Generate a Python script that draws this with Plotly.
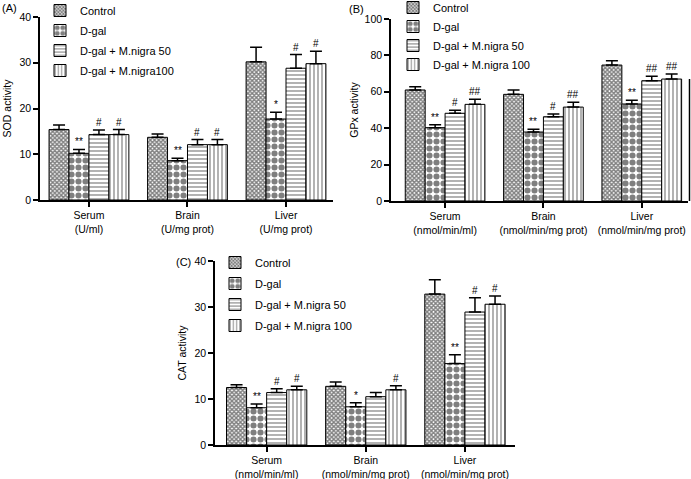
import plotly.graph_objects as go

W, H = 691, 479

series = ["Control", "D-gal", "D-gal + M.nigra 50", "D-gal + M.nigra100"]
series_bc = ["Control", "D-gal", "D-gal + M.nigra 50", "D-gal + M.nigra 100"]

cats_a = ["Serum<br>(U/ml)", "Brain<br>(U/mg prot)", "Liver<br>(U/mg prot)"]
cats_bc = ["Serum<br>(nmol/min/ml)", "Brain<br>(nmol/min/mg prot)", "Liver<br>(nmol/min/mg prot)"]

# Panel A: SOD activity  (per series: Serum, Brain, Liver)
sod_mean = {
    "Control": [15.4, 13.7, 30.2],
    "D-gal": [10.2, 8.6, 17.7],
    "M50": [14.3, 12.1, 28.8],
    "M100": [14.3, 12.1, 29.8],
}
sod_err = {
    "Control": [1.0, 0.7, 3.2],
    "D-gal": [0.85, 0.5, 1.5],
    "M50": [1.0, 1.1, 3.0],
    "M100": [1.1, 1.1, 2.7],
}
sod_sig = {
    "Control": ["", "", ""],
    "D-gal": ["**", "**", "*"],
    "M50": ["#", "#", "#"],
    "M100": ["#", "#", "#"],
}

# Panel B: GPx activity
gpx_mean = {
    "Control": [61.0, 58.6, 74.7],
    "D-gal": [40.3, 37.9, 53.3],
    "M50": [48.2, 46.3, 66.1],
    "M100": [53.1, 51.6, 67.0],
}
gpx_err = {
    "Control": [1.8, 2.4, 2.4],
    "D-gal": [1.6, 1.5, 2.0],
    "M50": [1.6, 1.5, 2.4],
    "M100": [2.8, 2.6, 2.8],
}
gpx_sig = {
    "Control": ["", "", ""],
    "D-gal": ["**", "**", "**"],
    "M50": ["#", "#", "##"],
    "M100": ["##", "##", "##"],
}

# Panel C: CAT activity
cat_mean = {
    "Control": [12.5, 12.75, 32.8],
    "D-gal": [8.1, 8.3, 17.7],
    "M50": [11.4, 10.5, 28.9],
    "M100": [12.0, 12.0, 30.6],
}
cat_err = {
    "Control": [0.6, 0.95, 3.1],
    "D-gal": [0.8, 0.9, 1.9],
    "M50": [0.85, 0.9, 3.1],
    "M100": [0.75, 0.9, 1.8],
}
cat_sig = {
    "Control": ["", "", ""],
    "D-gal": ["**", "*", "**"],
    "M50": ["#", "", "#"],
    "M100": ["#", "#", "#"],
}

keys = ["Control", "D-gal", "M50", "M100"]
patterns = {
    "Control": dict(shape="x", size=3, solidity=0.7, fgcolor="black", bgcolor="white"),
    "D-gal": dict(shape=".", size=7, solidity=0.6, fgcolor="black", bgcolor="white"),
    "M50": dict(shape="-", size=4, solidity=0.3, fgcolor="black", bgcolor="white"),
    "M100": dict(shape="|", size=4, solidity=0.3, fgcolor="black", bgcolor="white"),
}

FONT = "Liberation Sans, Arial, sans-serif"
BARGAP = 0.19
bw = (1 - BARGAP) / 4
offsets = [(-1.5 + j) * bw for j in range(4)]

fig = go.Figure()
annotations = []

panels = [
    ("x", "y", "legend", sod_mean, sod_err, sod_sig, series),
    ("x2", "y2", "legend2", gpx_mean, gpx_err, gpx_sig, series_bc),
    ("x3", "y3", "legend3", cat_mean, cat_err, cat_sig, series_bc),
]

xs = [0, 1, 2]
for pi, (xa, ya, lg, means, errs, sigs, names) in enumerate(panels):
    for j, k in enumerate(keys):
        fig.add_trace(go.Bar(
            x=xs, y=means[k], name=names[j], xaxis=xa, yaxis=ya, legend=lg,
            legendgroup=f"{lg}_{k}",
            marker=dict(color="white", line=dict(color="black", width=1), pattern=patterns[k]),
            error_y=dict(type="data", array=errs[k], arrayminus=[0, 0, 0], symmetric=False,
                         color="black", thickness=1.5, width=6),
        ))
        for i in range(3):
            if sigs[k][i]:
                annotations.append(dict(
                    x=xs[i] + offsets[j], y=means[k][i] + errs[k][i], xref=xa, yref=ya,
                    text=sigs[k][i], showarrow=False, yanchor="bottom", yshift=0,
                    font=dict(size=10, color="#000000", family=FONT),
                ))

axis_common = dict(showline=True, linecolor="black", linewidth=1.5, ticks="outside",
                   ticklen=5, tickwidth=1.5, tickcolor="black", showgrid=False, zeroline=False,
                   tickfont=dict(size=10.5, color="black", family=FONT))

def px_x(p):
    return p / W

def px_y(p):
    return 1 - p / H

legend_common = dict(xanchor="left", yanchor="top", bgcolor="rgba(0,0,0,0)",
                     font=dict(size=11, family=FONT, color="black"), traceorder="grouped",
                     xref="paper", yref="paper")

fig.update_layout(
    width=W, height=H, margin=dict(l=0, r=0, t=0, b=0, autoexpand=False),
    paper_bgcolor="white", plot_bgcolor="white",
    barmode="group", bargap=BARGAP, bargroupgap=0,
    font=dict(family=FONT, color="black", size=11),
    showlegend=True,
    xaxis=dict(domain=[px_x(40), px_x(333)], range=[-0.497, 2.477], anchor="y",
               tickvals=xs, ticktext=cats_a, **axis_common),
    yaxis=dict(domain=[px_y(200), px_y(17)], range=[0, 40], anchor="x", tickvals=[0, 10, 20, 30, 40],
               title=dict(text="SOD activity", font=dict(size=10.5), standoff=6), **axis_common),
    xaxis2=dict(domain=[px_x(391), px_x(688)], range=[-0.55, 2.47], anchor="y2",
                tickvals=xs, ticktext=cats_bc, **axis_common),
    yaxis2=dict(domain=[px_y(201), px_y(19)], range=[0, 100], anchor="x2",
                tickvals=[0, 20, 40, 60, 80, 100],
                title=dict(text="GPx activity", font=dict(size=10.5), standoff=4), **axis_common),
    xaxis3=dict(domain=[px_x(215), px_x(515)], range=[-0.521, 2.505], anchor="y3",
                tickvals=xs, ticktext=cats_bc, **axis_common),
    yaxis3=dict(domain=[px_y(445), px_y(261)], range=[0, 40], anchor="x3",
                tickvals=[0, 10, 20, 30, 40],
                title=dict(text="CAT activity", font=dict(size=10.5), standoff=6), **axis_common),
    legend=dict(x=px_x(40), y=px_y(-4), tracegroupgap=1, **legend_common),
    legend2=dict(x=px_x(393), y=px_y(-7), tracegroupgap=0, **legend_common),
    legend3=dict(x=px_x(215), y=px_y(248), tracegroupgap=2, **legend_common),
    annotations=annotations + [
        dict(x=0, y=px_y(8), xref="paper", yref="paper", text="(A)", showarrow=False,
             xanchor="left", yanchor="middle", font=dict(size=11, family=FONT, color="black")),
        dict(x=px_x(347), y=px_y(9), xref="paper", yref="paper", text="(B)", showarrow=False,
             xanchor="left", yanchor="middle", font=dict(size=11, family=FONT, color="black")),
        dict(x=px_x(174), y=px_y(262), xref="paper", yref="paper", text="(C)", showarrow=False,
             xanchor="left", yanchor="middle", font=dict(size=11, family=FONT, color="black")),
    ],
    shapes=[dict(type="line", xref="paper", yref="paper", x0=px_x(689.5), x1=px_x(689.5),
                 y0=px_y(201), y1=px_y(79), line=dict(color="black", width=1.5))],
)

fig.write_html("out.html", config={"displayModeBar": False},
               post_script="document.body.style.margin='0';document.body.style.overflow='hidden';")
